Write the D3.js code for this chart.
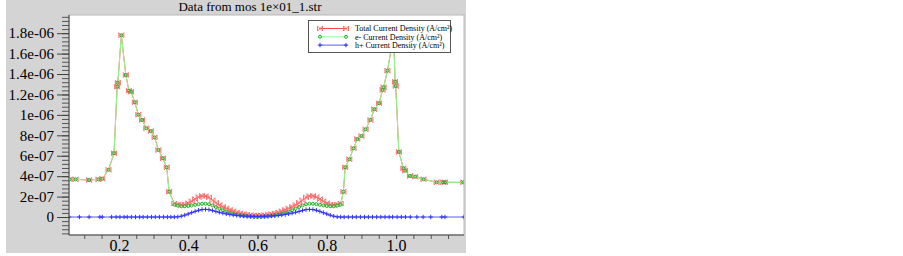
<!DOCTYPE html>
<html><head><meta charset="utf-8">
<script src="https://cdn.jsdelivr.net/npm/d3@7"></script>
<style>body{margin:0;background:#fff}svg{display:block}
svg text{font-family:"Liberation Serif","Times New Roman","DejaVu Serif",serif;}</style>
</head><body><svg id="c" width="903" height="256"></svg>
<script>
const title = "Data from mos 1e×01_1.str";
const seriesNames = ["Total Current Density (A/cm²)", "e- Current Density (A/cm²)", "h+ Current Density (A/cm²)"];

// values in units of 1e-7 A/cm²
const outerLeftX = [0.058,0.075,0.114,0.141,0.152,0.170,0.186,0.195,0.197,0.207,0.220,0.229,0.235,0.246,0.256,0.267,0.279,0.292,0.303,0.314,0.327,0.338,0.345];
const outerLeftV = [3.69,3.69,3.62,3.69,3.75,4.62,6.24,12.76,13.15,17.80,13.90,12.37,12.27,11.23,10.02,9.50,8.69,8.42,7.80,6.56,5.75,4.87,2.48];
const midX = [0.36,0.37,0.38,0.39,0.40,0.41,0.42,0.43,0.44,0.45,0.46,0.47,0.48,0.49,0.50,0.51,0.52,0.53,0.54,0.55,0.56,0.57,0.58,0.59,0.60,
              0.61,0.62,0.63,0.64,0.65,0.66,0.67,0.68,0.69,0.70,0.71,0.72,0.73,0.74,0.75,0.76,0.77,0.78,0.79,0.80,0.81,0.82,0.83,0.84];
const midTotal = [1.32,1.22,1.18,1.22,1.35,1.55,1.75,1.95,2.07,2.05,1.92,1.65,1.40,1.18,1.00,0.85,0.70,0.57,0.45,0.36,0.29,0.23,0.19,0.16,0.15,
                  0.16,0.19,0.23,0.29,0.36,0.45,0.57,0.70,0.85,1.00,1.18,1.40,1.65,1.92,2.05,2.07,1.95,1.75,1.55,1.35,1.22,1.18,1.22,1.32];
const midElectron = [1.22,1.12,1.05,1.05,1.08,1.13,1.20,1.26,1.30,1.30,1.25,1.13,0.98,0.82,0.66,0.52,0.40,0.30,0.22,0.15,0.10,0.06,0.03,0.01,0.00,
                     0.01,0.03,0.06,0.10,0.15,0.22,0.30,0.40,0.52,0.66,0.82,0.98,1.13,1.25,1.30,1.30,1.26,1.20,1.13,1.08,1.05,1.05,1.12,1.22];
const midHole = [0.00,0.02,0.08,0.18,0.30,0.43,0.55,0.66,0.73,0.75,0.72,0.64,0.55,0.46,0.38,0.31,0.25,0.20,0.16,0.13,0.10,0.08,0.07,0.06,0.05,
                 0.06,0.07,0.08,0.10,0.13,0.16,0.20,0.25,0.31,0.38,0.46,0.55,0.64,0.72,0.75,0.73,0.66,0.55,0.43,0.30,0.18,0.08,0.02,0.00];
const outerRightX = [0.848,0.853,0.865,0.877,0.888,0.900,0.912,0.926,0.937,0.951,0.961,0.964,0.975,0.993,0.997,0.999,1.008,1.021,1.026,1.040,1.055,1.079,1.117,1.136,1.141,1.194];
const outerRightV = [2.48,4.87,5.65,6.73,7.64,7.93,8.59,9.50,10.55,11.14,12.44,12.70,14.33,17.80,13.25,12.83,6.37,4.77,4.54,4.02,3.95,3.70,3.40,3.40,3.40,3.40];
const holeLeftX = [0.056,0.086,0.114,0.145,0.152,0.179,0.192,0.203,0.215,0.224,0.236,0.248,0.260,0.270,0.282,0.294,0.305,0.317,0.329,0.340,0.350];
const holeLeftV = [0,0,0,0,0,0,0,0,0,0,0,0,0,0,0,0,0,0,0,0,0];
const holeRightX = [0.850,0.862,0.874,0.885,0.897,0.909,0.920,0.932,0.944,0.956,0.968,0.980,0.990,1.003,1.015,1.027,1.041,1.060,1.078,1.100,1.132,1.141,1.196];
const holeRightV = [0,0,0,0,0,0,0,0,0,0,0,0,0,0,0,0,0,0,0,0,0,0,0];

const yTickValues = [0,2e-7,4e-7,6e-7,8e-7,1e-6,1.2e-6,1.4e-6,1.6e-6,1.8e-6];
const yTickLabels = ["0","2e-07","4e-07","6e-07","8e-07","1e-06","1.2e-06","1.4e-06","1.6e-06","1.8e-06"];
const xTickValues = [0.2,0.4,0.6,0.8,1.0];
const xTickLabels = ["0.2","0.4","0.6","0.8","1.0"];

const E7 = 1e-7;
const teX = outerLeftX.concat(midX, outerRightX);
const teTotal = outerLeftV.concat(midTotal, outerRightV);
const teElectron = outerLeftV.concat(midElectron, outerRightV);
const totalData = teX.map((xv,i)=>[xv, teTotal[i]*E7]);
const eData = teX.map((xv,i)=>[xv, teElectron[i]*E7]);
const hX = holeLeftX.concat(midX, holeRightX);
const hV = holeLeftV.concat(midHole, holeRightV);
const hData = hX.map((xv,i)=>[xv, hV[i]*E7]);

const svg = d3.select("#c");
const L=69, R=464, T=15, B=235;
const FONT = '"Liberation Serif","Times New Roman","DejaVu Serif",serif';

svg.append("rect").attr("x",6).attr("y",0).attr("width",460).attr("height",253).attr("fill","#d4d4d4");
svg.append("rect").attr("x",L).attr("y",T).attr("width",R-L).attr("height",B-T).attr("fill","#fff").attr("stroke","#b8b8b8").attr("stroke-width",1);

svg.append("text").attr("x",250).attr("y",11).attr("text-anchor","middle")
  .attr("font-family",FONT).style("font-size","13px").text(title);

const x = d3.scaleLinear().domain([0.056,1.196]).range([L,R]);
const y = d3.scaleLinear().domain([-1.76e-7,1.978e-6]).range([B,T]);

const yMinor = d3.range(-16,197,4).map(v=>v*1e-8);
const gym = svg.append("g").attr("transform",`translate(${L},0)`).call(d3.axisLeft(y).tickValues(yMinor).tickSize(7).tickFormat(""));
gym.select(".domain").remove();
gym.selectAll("line").attr("stroke","#555");
const gy = svg.append("g").attr("transform",`translate(${L},0)`)
  .call(d3.axisLeft(y).tickValues(yTickValues).tickFormat((d,i)=>yTickLabels[i]).tickSize(12).tickPadding(3));
gy.attr("font-family",FONT);
gy.select(".domain").attr("stroke","#404040").attr("d",`M0,${T}V${B}`);
gy.selectAll("line").attr("stroke","#404040");
gy.selectAll("text").style("font-size","15px").attr("fill","#000");

const xMinor = d3.range(2,24).map(v=>v*0.05);
const gxm = svg.append("g").attr("transform",`translate(0,${B})`).call(d3.axisBottom(x).tickValues(xMinor).tickSize(4).tickFormat(""));
gxm.select(".domain").remove();
gxm.selectAll("line").attr("stroke","#555");
const gx = svg.append("g").attr("transform",`translate(0,${B})`)
  .call(d3.axisBottom(x).tickValues(xTickValues).tickFormat((d,i)=>xTickLabels[i]).tickSize(4).tickPadding(1));
gx.attr("font-family",FONT);
gx.select(".domain").attr("stroke","#404040").attr("d",`M${L},0H${R}`);
gx.selectAll("line").attr("stroke","#404040");
gx.selectAll("text").style("font-size","16px").attr("fill","#000");

svg.append("clipPath").attr("id","clip").append("rect").attr("x",L).attr("y",T).attr("width",R-L).attr("height",B-T);
const plot = svg.append("g").attr("clip-path","url(#clip)");
const line = d3.line().x(d=>x(d[0])).y(d=>y(d[1]));

const bowtie = "M-2.5,-2.5L2.5,2.5M-2.5,2.5L2.5,-2.5M-2.5,-2.5V2.5M2.5,-2.5V2.5";
const plus = "M-2.2,0H2.2M0,-2.2V2.2";

const styles = [
  {data: totalData, line:"#ff4a4a", mk:"#ff7070", type:"bowtie"},
  {data: eData, line:"#8cff8c", mk:"#2aa82a", type:"circle"},
  {data: hData, line:"#5a5aff", mk:"#3030ff", type:"plus"}
];
function drawMarker(g, cx, cy, s){
  if(s.type==="circle"){
    g.append("circle").attr("cx",cx).attr("cy",cy).attr("r",1.5).attr("fill","none").attr("stroke",s.mk).attr("stroke-width",1);
  } else {
    g.append("path").attr("transform",`translate(${cx},${cy})`).attr("d", s.type==="bowtie"?bowtie:plus)
      .attr("fill","none").attr("stroke",s.mk).attr("stroke-width",1);
  }
}
styles.forEach(s=>{
  plot.append("path").datum(s.data).attr("d",line).attr("fill","none").attr("stroke",s.line).attr("stroke-width",1);
  const mg = plot.append("g");
  s.data.forEach(d=>drawMarker(mg, x(d[0]), y(d[1]), s));
});

const lg = svg.append("g");
lg.append("rect").attr("x",308.5).attr("y",20.5).attr("width",142).attr("height",32).attr("fill","#fff").attr("stroke","#555");
const rowsY = [28.5,36.8,45.1];
styles.forEach((s,i)=>{
  lg.append("line").attr("x1",319).attr("x2",347).attr("y1",rowsY[i]).attr("y2",rowsY[i]).attr("stroke",s.line);
  drawMarker(lg,320,rowsY[i],s);
  drawMarker(lg,346,rowsY[i],s);
  lg.append("text").attr("x",355).attr("y",rowsY[i]+2.8).attr("font-family",FONT).style("font-size","8px").text(seriesNames[i]);
});
</script></body></html>
